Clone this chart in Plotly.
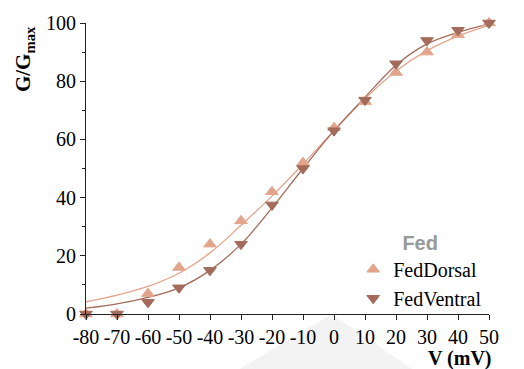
import plotly.graph_objects as go

voltage = [-80, -70, -60, -50, -40, -30, -20, -10, 0, 10, 20, 30, 40, 50]
dorsal = [0, 0, 7, 16, 24, 32, 42, 52, 64, 73, 83, 90, 96, 100]
ventral = [0, 0, 4, 9, 15, 24, 37.5, 50, 63, 73.5, 86, 94, 97.5, 100]
dorsal_fit = [4.2, 6.5, 9.5, 14, 21, 30.5, 40.5, 51.5, 63, 74, 83.5, 90.5, 95.5, 99.2]
ventral_fit = [2, 3.5, 5.7, 9, 15, 24, 36.5, 50, 63, 74.5, 85.5, 92.8, 96.8, 99.6]
xticks = list(range(-80, 51, 10))
yticks = [0, 20, 40, 60, 80, 100]

c_d = "#E3A48C"
c_v = "#A46B5A"
serif = "Liberation Serif, Times New Roman, serif"

fig = go.Figure()
fig.add_trace(go.Scatter(x=voltage, y=dorsal_fit, mode="lines", line=dict(color=c_d, width=1.3, shape="spline"),
                         showlegend=False, hoverinfo="skip"))
fig.add_trace(go.Scatter(x=voltage, y=ventral_fit, mode="lines", line=dict(color=c_v, width=1.3, shape="spline"),
                         showlegend=False, hoverinfo="skip"))
fig.add_trace(go.Scatter(x=voltage, y=dorsal, mode="markers", name="FedDorsal",
                         marker=dict(symbol="triangle-up", size=11, color=c_d, line=dict(width=1, color=c_d)),
                         cliponaxis=False))
fig.add_trace(go.Scatter(x=voltage, y=ventral, mode="markers", name="FedVentral",
                         marker=dict(symbol="triangle-down", size=11, color=c_v, line=dict(width=1, color=c_v)),
                         cliponaxis=False))

fig.update_layout(
    width=524, height=369,
    margin=dict(l=86, r=35, t=19, b=55),
    paper_bgcolor="white", plot_bgcolor="white",
    font=dict(family=serif, size=20, color="black"),
    showlegend=True,
    legend=dict(x=0.663, y=0.31, xanchor="left", yanchor="top", bgcolor="rgba(0,0,0,0)",
                title=dict(text="<b>Fed</b>", side="top center",
                           font=dict(family="Liberation Sans, Arial, sans-serif", size=20, color="#999999")),
                font=dict(family=serif, size=20, color="black"),
                itemwidth=30, tracegroupgap=0),
    xaxis=dict(range=[-80, 50], tickvals=xticks, ticktext=[str(v) for v in xticks],
               showgrid=False, zeroline=False, showline=True, linecolor="#222", linewidth=1.2,
               ticks="outside", ticklen=5, tickcolor="#222", tickwidth=1.2,
               tickfont=dict(family=serif, size=20)),
    yaxis=dict(range=[0, 100], tickvals=yticks, showgrid=False, zeroline=False, showline=True,
               linecolor="#222", linewidth=1.2, ticks="outside", ticklen=5, tickcolor="#222", tickwidth=1.2,
               tickfont=dict(family=serif, size=20),
               minor=dict(dtick=10, ticks="outside", ticklen=3, tickcolor="#222", tickwidth=1.2, showgrid=False)),
    shapes=[dict(type="path", xref="paper", yref="paper",
                 path="M 0.38 -0.19 L 0.61 0.0 L 0.81 -0.19 Z",
                 fillcolor="#F3F3F3", line=dict(width=0), layer="below")],
    annotations=[
        dict(text="<b>V (mV)</b>", xref="paper", yref="paper", x=1.012, y=-0.152, xanchor="right", yanchor="middle",
             showarrow=False, font=dict(family=serif, size=20)),
        dict(text="<b>G/G<sub>max</sub></b>", xref="paper", yref="paper", x=-0.152, y=0.875, xanchor="center",
             yanchor="middle", textangle=-90, showarrow=False, font=dict(family=serif, size=21)),
    ],
)

fig.write_html("out.html")
